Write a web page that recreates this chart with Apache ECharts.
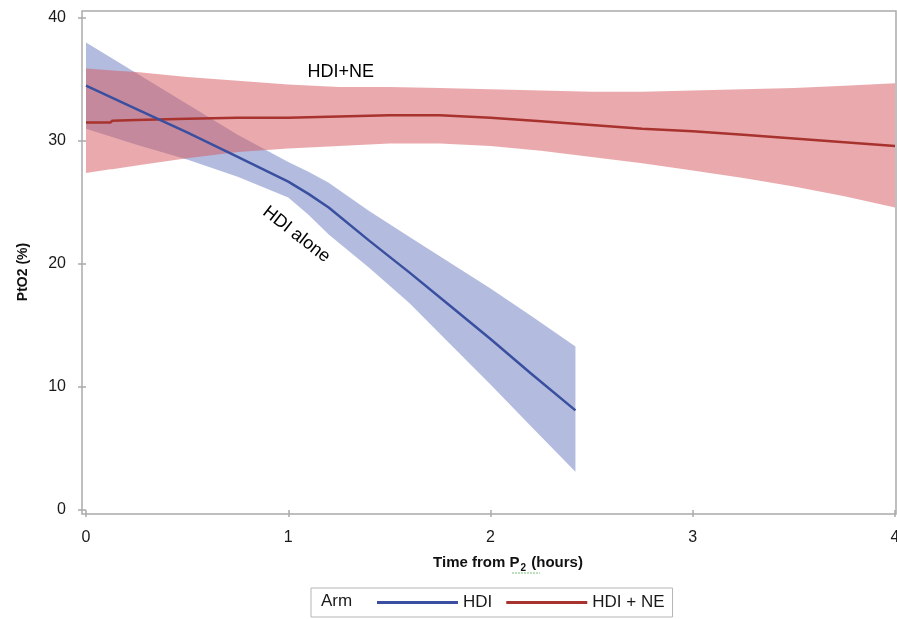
<!DOCTYPE html>
<html>
<head>
<meta charset="utf-8">
<script src="https://cdn.jsdelivr.net/npm/echarts@6/dist/echarts.min.js"></script>
<style>
html,body{margin:0;padding:0;background:#fff;}
#chart{width:897px;height:619px;}
</style>
</head>
<body>
<div id="chart"></div>
<script>
// ---- Data ----
const xTicks = [0, 1, 2, 3, 4];
const yTicks = [0, 10, 20, 30, 40];

// HDI arm
const hdiTime  = [0, 0.25, 0.5, 0.75, 1.0, 1.1, 1.2, 1.4, 1.6, 1.8, 2.0, 2.2, 2.42];
const hdiMean  = [34.5, 32.6, 30.7, 28.7, 26.7, 25.7, 24.6, 21.9, 19.3, 16.6, 13.9, 11.1, 8.1];
const hdiUpper = [38.0, 35.5, 33.0, 30.5, 28.3, 27.5, 26.6, 24.3, 22.2, 20.1, 18.0, 15.8, 13.3];
const hdiLower = [31.0, 29.7, 28.5, 27.1, 25.4, 24.0, 22.4, 19.7, 16.8, 13.5, 10.2, 6.8, 3.1];

// HDI + NE arm
const neTime  = [0, 0.12, 0.13, 0.25, 0.5, 0.75, 1.0, 1.25, 1.5, 1.75, 2.0, 2.25, 2.5, 2.75, 3.0, 3.25, 3.5, 3.75, 4.0];
const neMean  = [31.5, 31.5, 31.65, 31.7, 31.8, 31.9, 31.9, 32.0, 32.1, 32.1, 31.9, 31.6, 31.3, 31.0, 30.8, 30.5, 30.2, 29.9, 29.6];
const neUpper = [35.9, 35.75, 35.74, 35.6, 35.2, 34.9, 34.6, 34.4, 34.4, 34.3, 34.2, 34.1, 34.0, 34.0, 34.1, 34.2, 34.3, 34.5, 34.7];
const neLower = [27.4, 27.7, 27.7, 28.0, 28.6, 29.1, 29.4, 29.6, 29.8, 29.8, 29.6, 29.2, 28.7, 28.2, 27.6, 27.0, 26.3, 25.5, 24.6];

const seriesNames = ['HDI', 'HDI + NE'];
const annotations = [
  {text: 'HDI+NE', t: 1.26, v: 35.6, rotate: 0},
  {text: 'HDI alone', t: 1.04, v: 22.4, rotate: -38}
];

// ---- Chart ----
const FONT = '"Liberation Sans", Arial, sans-serif';
const AXIS_GREY = '#ababab';

function bandSeries(name, times, upper, lower, fill) {
  return {
    type: 'custom',
    name: name,
    xAxisIndex: 0, yAxisIndex: 0,
    silent: true,
    data: times.map((t, i) => [t, upper[i], lower[i]]),
    encode: {x: 0, y: [1, 2]},
    renderItem: function (params, api) {
      if (params.dataIndex !== 0) return null;
      const pts = [];
      for (let i = 0; i < times.length; i++) pts.push(api.coord([times[i], upper[i]]));
      for (let i = times.length - 1; i >= 0; i--) pts.push(api.coord([times[i], lower[i]]));
      return {type: 'polygon', shape: {points: pts}, style: {fill: fill, stroke: null}};
    },
    z: 1
  };
}

const chart = echarts.init(document.getElementById('chart'), null, {renderer: 'canvas'});
const option = {
  animation: false,
  backgroundColor: '#ffffff',
  grid: [
    {left: 86, top: 18, right: 2, bottom: 109, show: false, outerBoundsMode: 'none', containLabel: false},
    {left: 82, top: 11, right: 1, bottom: 105, show: true, borderColor: AXIS_GREY, borderWidth: 1.5,
     backgroundColor: 'transparent', outerBoundsMode: 'none', containLabel: false}
  ],
  xAxis: [
    {
      type: 'value', gridIndex: 0, min: 0, max: 4, interval: 1, offset: 4,
      axisLine: {show: false},
      axisTick: {show: true, length: 7, lineStyle: {color: AXIS_GREY, width: 1.5}},
      splitLine: {show: false},
      axisLabel: {margin: 16, fontSize: 16, color: '#1a1a1a', fontFamily: FONT,
                  formatter: v => xTicks.includes(v) ? String(v) : ''}
    },
    {type: 'value', gridIndex: 1, min: 0, max: 1, show: false}
  ],
  yAxis: [
    {
      type: 'value', gridIndex: 0, min: 0, max: 40, interval: 10, offset: 4,
      axisLine: {show: false},
      axisTick: {show: true, length: 8, lineStyle: {color: AXIS_GREY, width: 1.5}},
      splitLine: {show: false},
      axisLabel: {margin: 16, fontSize: 16, color: '#1a1a1a', fontFamily: FONT,
                  formatter: v => yTicks.includes(v) ? String(v) : ''}
    },
    {type: 'value', gridIndex: 1, min: 0, max: 1, show: false}
  ],
  legend: {
    data: [
      {name: 'HDI', icon: 'rect'},
      {name: 'HDI + NE', icon: 'rect'}
    ],
    left: 311, top: 588,
    orient: 'horizontal',
    itemWidth: 81, itemHeight: 3, itemGap: 14,
    selectedMode: false,
    borderColor: '#b5b5b5', borderWidth: 1,
    padding: [6, 8, 6, 66],
    textStyle: {fontSize: 17, color: '#1a1a1a', fontFamily: FONT}
  },
  graphic: [
    {type: 'text', left: 321, top: 593, silent: true,
     style: {text: 'Arm', fontSize: 17, fill: '#1a1a1a', fontFamily: FONT}},
    {type: 'text', x: 23, y: 272, rotation: Math.PI / 2, silent: true,
     style: {text: 'PtO2 (%)', fontSize: 14, fontWeight: 'bold', fill: '#111', fontFamily: FONT,
             align: 'center', verticalAlign: 'middle'}},
    {type: 'text', x: 508, y: 563, silent: true,
     style: {
       text: '{a|Time from P}{b|2}{a| (hours)}',
       align: 'center', verticalAlign: 'middle',
       rich: {
         a: {fontSize: 15, fontWeight: 'bold', fill: '#111', fontFamily: FONT},
         b: {fontSize: 10, fontWeight: 'bold', fill: '#111', fontFamily: FONT, padding: [10, 1, 0, 1]}
       }
     }},
    {type: 'line', silent: true,
     shape: {x1: 512, y1: 573, x2: 540, y2: 573},
     style: {stroke: '#7bbf7b', lineWidth: 1.2, lineDash: [2, 1]}}
  ],
  series: [
    bandSeries('HDI band', hdiTime, hdiUpper, hdiLower, 'rgba(104,122,192,0.5)'),
    bandSeries('HDI + NE band', neTime, neUpper, neLower, 'rgba(214,86,92,0.5)'),
    {
      type: 'line', name: seriesNames[1], xAxisIndex: 0, yAxisIndex: 0,
      data: neTime.map((t, i) => [t, neMean[i]]),
      showSymbol: false, symbol: 'none', smooth: false,
      lineStyle: {color: '#a8322e', width: 2.5},
      itemStyle: {color: '#a8322e'},
      z: 3
    },
    {
      type: 'line', name: seriesNames[0], xAxisIndex: 0, yAxisIndex: 0,
      data: hdiTime.map((t, i) => [t, hdiMean[i]]),
      showSymbol: false, symbol: 'none', smooth: false,
      lineStyle: {color: '#3a4f9f', width: 2.5},
      itemStyle: {color: '#3a4f9f'},
      z: 4
    },
    {
      type: 'scatter', name: 'labels', xAxisIndex: 0, yAxisIndex: 0,
      silent: true, symbolSize: 0,
      data: annotations.map(a => ({
        value: [a.t, a.v],
        label: {show: true, position: 'inside', formatter: a.text, rotate: a.rotate,
                fontSize: 18, color: '#000', opacity: 1, fontFamily: FONT,
                textBorderWidth: 0}
      })),
      z: 5
    }
  ]
};
chart.setOption(option);
</script>
</body>
</html>
